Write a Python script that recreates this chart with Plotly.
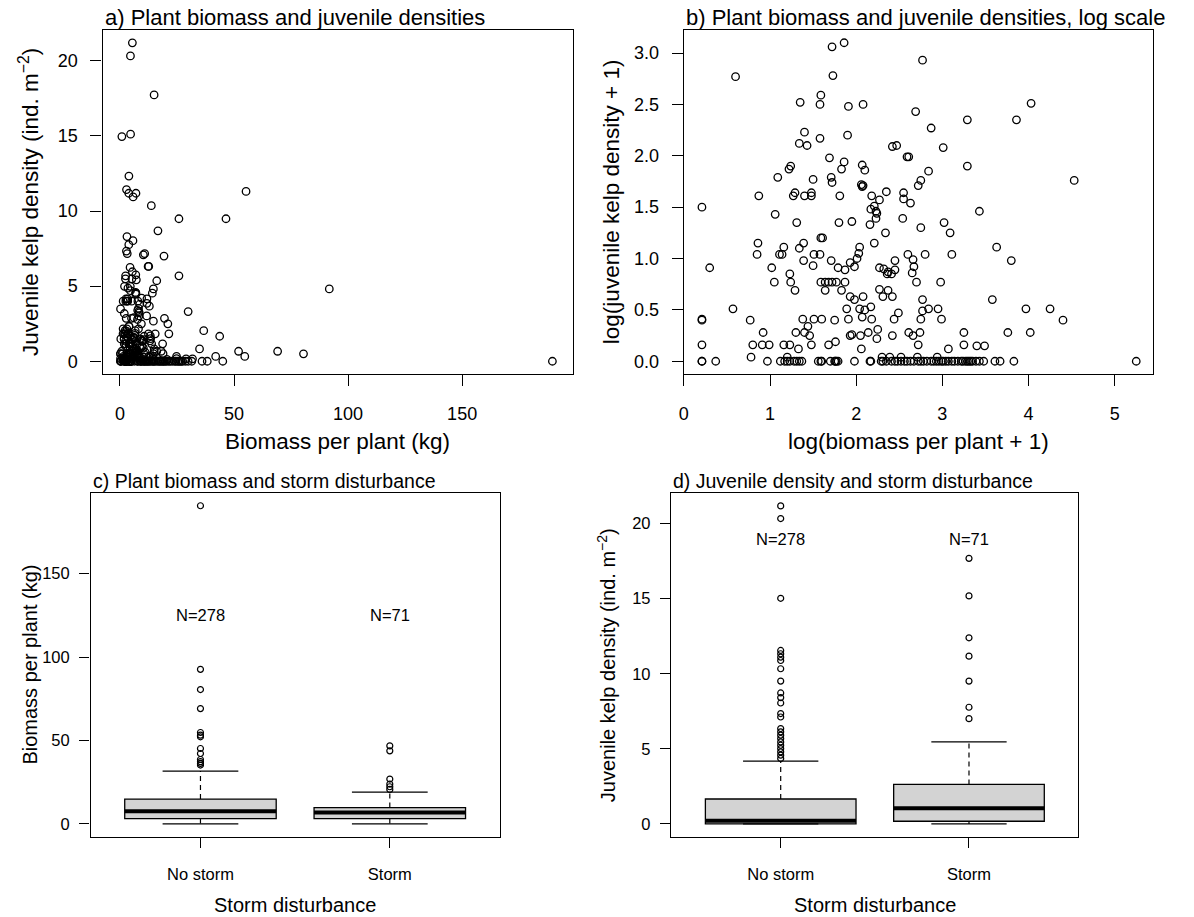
import numpy as np
import plotly.graph_objects as go

FONT = "Liberation Sans, Arial, Helvetica, sans-serif"
W, H = 1194, 917

# ---- Data: log(biomass + 1) and log(juvenile density + 1) ----
log_biomass = [
    # y >= ~2
    1.72, 1.86, 0.60, 1.73, 2.77, 1.35, 1.59, 1.58, 1.91, 2.08,
    2.69, 3.29, 3.86, 4.03, 2.87, 1.40, 1.34, 1.43, 1.58, 1.90,
    2.42, 2.47, 3.01, 2.59, 2.61, 1.69,
    # 1.4 - 1.95
    1.86, 1.83, 2.07, 2.10, 1.22, 1.24, 1.09, 1.50, 1.71, 1.72,
    2.06, 2.07, 2.08, 2.72, 2.75, 2.84, 3.29, 4.53, 0.87, 1.27,
    1.29, 1.40, 1.48, 1.48, 1.81, 2.18, 2.27, 2.35, 2.55, 2.55,
    2.63, 0.21, 2.17, 2.21, 2.23, 2.24, 2.23, 3.43, 1.06,
    # 1.0 - 1.4
    1.31, 1.80, 1.95, 2.16, 2.34, 2.54, 2.75, 3.02, 3.09, 0.86,
    1.16, 1.39, 1.59, 1.61, 1.34, 2.04, 2.21, 3.63, 0.85, 1.11,
    1.14, 1.51, 1.58, 2.03, 2.60, 2.80, 3.11, 2.01,
    # 0.5 - 1.0
    1.39, 1.50, 1.71, 0.30, 1.02, 1.23, 1.05, 1.24, 1.29, 1.59,
    1.64, 1.68, 1.72, 1.77, 1.87, 1.64, 1.83, 1.79, 1.87, 1.93,
    1.98, 1.93, 1.98, 2.08, 2.04, 2.10, 2.17, 1.89, 2.27, 2.31,
    2.37, 2.42, 2.27, 2.32, 2.37, 2.41, 2.36, 2.45, 2.45, 2.66,
    2.67, 2.65, 2.70, 2.98, 3.80, 2.77, 3.58, 0.57, 2.84, 2.77,
    2.95, 3.97, 4.25,
    # 0.02 - 0.5
    2.49, 2.07, 0.21, 0.21, 0.77, 1.38, 1.51, 1.60, 1.75, 1.91,
    2.18, 2.44, 2.75, 2.99, 4.40, 1.44, 0.92, 1.30, 1.40, 1.46,
    2.25, 2.14, 2.05, 1.93, 1.95, 2.42, 2.61, 2.66, 2.74, 3.25,
    3.76, 4.02, 2.24, 0.21, 0.80, 0.91, 0.99, 1.16, 1.23, 1.48,
    1.68, 1.76, 1.33, 2.06, 2.72, 3.07, 3.25, 3.40, 3.49, 0.78,
    1.20, 2.30, 2.39, 2.52, 2.71, 2.94,
    # zero juveniles
    0.21, 0.21, 0.37, 0.97, 1.12, 1.17, 1.20, 1.23, 1.28, 1.31,
    1.34, 1.37, 1.56, 1.59, 1.60, 1.70, 1.75, 1.76, 1.77, 1.79,
    1.98, 2.16, 2.17, 2.29, 2.31, 2.35, 2.41, 2.45, 2.48, 2.52,
    2.56, 2.59, 2.63, 2.67, 2.72, 2.75, 2.78, 2.82, 2.87, 2.90,
    2.93, 2.96, 2.99, 3.01, 3.04, 3.07, 3.11, 3.14, 3.18, 3.22,
    3.24, 3.27, 3.29, 3.31, 3.33, 3.35, 3.39, 3.43, 3.48, 3.61,
    3.67, 3.83, 5.25,
]
log_juvenile = [
    3.06, 3.10, 2.77, 2.78, 2.93, 2.52, 2.59, 2.50, 2.48, 2.50,
    2.43, 2.35, 2.35, 2.51, 2.27, 2.23, 2.12, 2.10, 2.17, 2.20,
    2.09, 2.10, 2.08, 1.99, 1.99, 1.98,
    1.94, 1.87, 1.91, 1.86, 1.87, 1.90, 1.79, 1.77, 1.79, 1.74,
    1.72, 1.70, 1.71, 1.71, 1.76, 1.85, 1.90, 1.76, 1.61, 1.61,
    1.64, 1.61, 1.61, 1.64, 1.61, 1.61, 1.57, 1.65, 1.64, 1.58,
    1.54, 1.50, 1.48, 1.51, 1.46, 1.44, 1.39, 1.46, 1.43,
    1.35, 1.35, 1.36, 1.33, 1.25, 1.39, 1.30, 1.35, 1.25, 1.15,
    1.11, 1.15, 1.20, 1.20, 1.10, 1.11, 1.15, 1.11, 1.04, 1.04,
    1.04, 1.04, 1.04, 1.05, 1.04, 1.04, 1.04, 1.00,
    0.98, 0.93, 0.98, 0.91, 0.91, 0.85, 0.77, 0.77, 0.69, 0.77,
    0.77, 0.77, 0.77, 0.77, 0.77, 0.69, 0.69, 0.91, 0.89, 0.96,
    0.92, 0.63, 0.60, 0.63, 0.51, 0.50, 0.53, 0.51, 0.70, 0.63,
    0.69, 0.63, 0.91, 0.90, 0.87, 0.85, 0.85, 0.89, 0.98, 0.99,
    0.92, 0.86, 0.77, 0.77, 0.98, 0.60, 0.60, 0.51, 0.51, 0.49,
    0.51, 0.51, 0.51,
    0.47, 0.43, 0.41, 0.40, 0.40, 0.41, 0.41, 0.41, 0.40, 0.41,
    0.41, 0.41, 0.41, 0.41, 0.40, 0.34, 0.28, 0.28, 0.28, 0.25,
    0.31, 0.28, 0.25, 0.25, 0.26, 0.25, 0.28, 0.25, 0.28, 0.28,
    0.28, 0.28, 0.22, 0.16, 0.16, 0.16, 0.16, 0.16, 0.16, 0.16,
    0.16, 0.19, 0.12, 0.12, 0.16, 0.12, 0.16, 0.15, 0.15, 0.04,
    0.04, 0.04, 0.04, 0.04, 0.04, 0.04,
    0.0, 0.0, 0.0, 0.0, 0.0, 0.0, 0.0, 0.0, 0.0, 0.0,
    0.0, 0.0, 0.0, 0.0, 0.0, 0.0, 0.0, 0.0, 0.0, 0.0,
    0.0, 0.0, 0.0, 0.0, 0.0, 0.0, 0.0, 0.0, 0.0, 0.0,
    0.0, 0.0, 0.0, 0.0, 0.0, 0.0, 0.0, 0.0, 0.0, 0.0,
    0.0, 0.0, 0.0, 0.0, 0.0, 0.0, 0.0, 0.0, 0.0, 0.0,
    0.0, 0.0, 0.0, 0.0, 0.0, 0.0, 0.0, 0.0, 0.0, 0.0,
    0.0, 0.0, 0.0,
]
n = min(len(log_biomass), len(log_juvenile))
log_biomass = np.array(log_biomass[:n])
log_juvenile = np.array(log_juvenile[:n])
# raw-scale values (panel a)
biomass = np.expm1(log_biomass)
juvenile = np.expm1(log_juvenile)

# ---- Boxplot statistics (panels c, d) ----
groups = ["No storm", "Storm"]
group_pos = [1, 2]
group_n = [278, 71]

biomass_q1 = [3.2, 3.2]
biomass_median = [7.6, 6.8]
biomass_q3 = [14.9, 9.8]
biomass_lower = [0.0, 0.0]
biomass_upper = [31.7, 19.1]
biomass_out_nostorm = [190.6, 92.6, 80.5, 69.1, 54.8, 53.2, 52.2, 45.2, 42.2, 38.6, 37.3, 36.3, 35.3]
biomass_out_storm = [46.8, 43.8, 26.9, 23.9, 22.3, 20.7]

juv_q1 = [0.0, 0.18]
juv_median = [0.22, 1.04]
juv_q3 = [1.66, 2.63]
juv_lower = [0.0, 0.0]
juv_upper = [4.18, 5.46]
juv_out_nostorm = [21.17, 20.33, 15.02, 11.55, 11.33, 11.1, 10.88, 10.33, 9.51, 8.72,
                   8.41, 8.05, 7.35, 7.12, 6.35, 6.13, 5.91, 5.69, 5.46, 5.24,
                   5.02, 4.8, 4.58, 4.36]
juv_out_storm = [17.68, 15.18, 12.39, 11.17, 9.51, 7.77, 7.01]

# ---- Figure ----
def X(px):
    return px / W

def Y(py):
    return 1 - py / H

fig = go.Figure()

scatter_marker = dict(symbol="circle-open", size=7.5, color="black", line=dict(width=1.3, color="black"))
out_marker = dict(symbol="circle-open", size=6, color="black", line=dict(width=1.2, color="black"))

fig.add_trace(go.Scatter(x=biomass, y=juvenile, mode="markers", marker=scatter_marker,
                         xaxis="x", yaxis="y", showlegend=False, hoverinfo="skip"))
fig.add_trace(go.Scatter(x=log_biomass, y=log_juvenile, mode="markers", marker=scatter_marker,
                         xaxis="x2", yaxis="y2", showlegend=False, hoverinfo="skip"))


def add_boxes(xa, ya, q1s, meds, q3s, los, his, outs):
    for i, pos in enumerate(group_pos):
        q1, med, q3, lo, hi = q1s[i], meds[i], q3s[i], los[i], his[i]
        # dashed whiskers
        fig.add_trace(go.Scatter(x=[pos, pos, None, pos, pos], y=[q3, hi, None, q1, lo], mode="lines",
                                 line=dict(color="black", width=1.2, dash="5px,4px"),
                                 xaxis=xa, yaxis=ya, showlegend=False, hoverinfo="skip"))
        # staples
        fig.add_trace(go.Scatter(x=[pos - 0.2, pos + 0.2, None, pos - 0.2, pos + 0.2], y=[hi, hi, None, lo, lo],
                                 mode="lines", line=dict(color="black", width=1.2),
                                 xaxis=xa, yaxis=ya, showlegend=False, hoverinfo="skip"))
        # box
        fig.add_trace(go.Box(x=[pos], q1=[q1], median=[med], q3=[q3], lowerfence=[q1], upperfence=[q3],
                             width=0.8, whiskerwidth=0, fillcolor="#d3d3d3",
                             line=dict(color="black", width=1.3), boxpoints=False,
                             xaxis=xa, yaxis=ya, showlegend=False, hoverinfo="skip"))
        # thick median
        fig.add_trace(go.Scatter(x=[pos - 0.4, pos + 0.4], y=[med, med], mode="lines",
                                 line=dict(color="black", width=4),
                                 xaxis=xa, yaxis=ya, showlegend=False, hoverinfo="skip"))
        # outliers
        fig.add_trace(go.Scatter(x=[pos] * len(outs[i]), y=outs[i], mode="markers", marker=out_marker,
                                 xaxis=xa, yaxis=ya, showlegend=False, hoverinfo="skip"))


add_boxes("x3", "y3", biomass_q1, biomass_median, biomass_q3, biomass_lower, biomass_upper,
          [biomass_out_nostorm, biomass_out_storm])
add_boxes("x4", "y4", juv_q1, juv_median, juv_q3, juv_lower, juv_upper,
          [juv_out_nostorm, juv_out_storm])

common = dict(showline=True, mirror=True, linecolor="black", linewidth=1.3, ticks="outside",
              tickcolor="black", tickwidth=1.2, showgrid=False, zeroline=False)

top_tick = dict(size=18, family=FONT, color="black")
bot_tick = dict(size=16.5, family=FONT, color="black")

row1 = [Y(374), Y(30)]
row2 = [Y(836.7), Y(492.7)]

fig.update_layout(
    width=W, height=H, margin=dict(l=0, r=0, t=0, b=0),
    paper_bgcolor="white", plot_bgcolor="white", showlegend=False,
    font=dict(family=FONT, color="black"),
    boxgap=0, boxgroupgap=0,
    xaxis=dict(domain=[X(98), X(570)], anchor="y", range=[-7.63, 198.43], tickvals=[0, 50, 100, 150],
               ticklen=11, tickfont=top_tick, ticklabelstandoff=12, **common),
    yaxis=dict(domain=row1, anchor="x", range=[-0.848, 22.05], tickvals=[0, 5, 10, 15, 20],
               ticklen=11, tickfont=top_tick, ticklabelstandoff=9, **common),
    xaxis2=dict(domain=[X(681.7), X(1153.3)], anchor="y2", range=[0.0, 5.45], tickvals=[0, 1, 2, 3, 4, 5],
                ticklen=11, tickfont=top_tick, ticklabelstandoff=12, **common),
    yaxis2=dict(domain=row1, anchor="x2", range=[-0.124, 3.224],
                tickvals=[0, 0.5, 1, 1.5, 2, 2.5, 3], tickformat=".1f",
                ticklen=11, tickfont=top_tick, ticklabelstandoff=9, **common),
    xaxis3=dict(domain=[X(86), X(496.7)], anchor="y3", range=[0.42, 2.58], tickvals=group_pos, ticktext=groups,
                ticklen=10.5, tickfont=bot_tick, ticklabelstandoff=12, **common),
    yaxis3=dict(domain=row2, anchor="x3", range=[-7.63, 198.43], tickvals=[0, 50, 100, 150],
                ticklen=10.5, tickfont=bot_tick, ticklabelstandoff=6, **common),
    xaxis4=dict(domain=[X(669.3), X(1077.7)], anchor="y4", range=[0.42, 2.58], tickvals=group_pos, ticktext=groups,
                ticklen=10.5, tickfont=bot_tick, ticklabelstandoff=12, **common),
    yaxis4=dict(domain=row2, anchor="x4", range=[-0.848, 22.05], tickvals=[0, 5, 10, 15, 20],
                ticklen=10.5, tickfont=bot_tick, ticklabelstandoff=6, **common),
)

ann = []

def paper_text(text, px, py, size, xanchor="center", angle=0):
    ann.append(dict(text=text, x=X(px), y=Y(py), xref="paper", yref="paper", xanchor=xanchor,
                    yanchor="middle", showarrow=False, textangle=angle,
                    font=dict(size=size, family=FONT, color="black")))

# panel titles
paper_text("a) Plant biomass and juvenile densities", 98, 17.5, 22, "left")
paper_text("b) Plant biomass and juvenile densities, log scale", 681.7, 17.5, 22, "left")
paper_text("c) Plant biomass and storm disturbance", 86, 481, 19.5, "left")
paper_text("d) Juvenile density and storm disturbance", 669.3, 481, 19.5, "left")
# axis titles
paper_text("Biomass per plant (kg)", 334, 441.5, 22.5)
paper_text("log(biomass per plant + 1)", 917.5, 441.5, 22.5)
paper_text("Juvenile kelp density (ind. m<sup>\u22122</sup>)", 24, 202, 22.5, angle=-90)
paper_text("log(juvenile kelp density + 1)", 608.7, 202, 22.5, angle=-90)
paper_text("Storm disturbance", 291.3, 905, 20)
paper_text("Storm disturbance", 873.5, 905, 20)
paper_text("Biomass per plant (kg)", 25, 664.7, 20, angle=-90)
paper_text("Juvenile kelp density (ind. m<sup>\u22122</sup>)", 604, 664.7, 20, angle=-90)

# N labels
for pos, nn in zip(group_pos, group_n):
    ann.append(dict(text=f"N={nn}", x=pos, y=125, xref="x3", yref="y3", showarrow=False,
                    xanchor="center", yanchor="middle", font=dict(size=16.5, family=FONT, color="black")))
    ann.append(dict(text=f"N={nn}", x=pos, y=19, xref="x4", yref="y4", showarrow=False,
                    xanchor="center", yanchor="middle", font=dict(size=16.5, family=FONT, color="black")))

fig.update_layout(annotations=ann)

fig.write_html("out.html")
